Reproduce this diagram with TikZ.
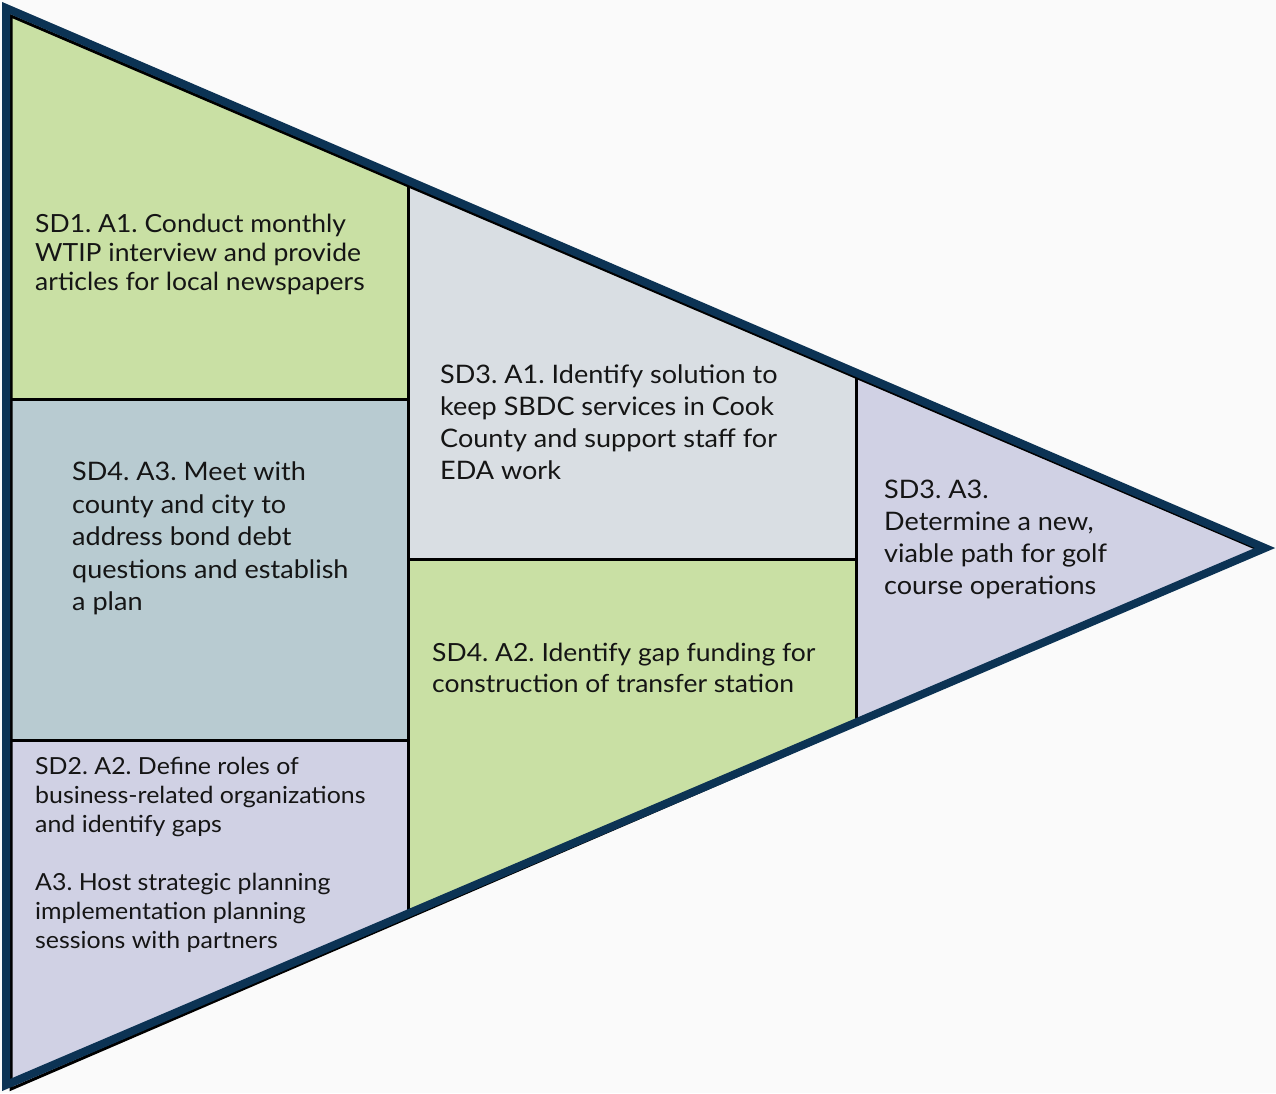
\documentclass[tikz,border=0pt]{standalone}
\usepackage{fontspec}
\setmainfont{Lato}[FakeStretch=1.06]
\frenchspacing
\definecolor{bgpaper}{HTML}{FAFAFA}
\definecolor{edgenavy}{HTML}{0C3354}
\definecolor{leafgreen}{HTML}{C9E0A4}
\definecolor{mistgrey}{HTML}{D9DEE3}
\definecolor{slateblue}{HTML}{B8CBD1}
\definecolor{lavender}{HTML}{D0D1E4}
\definecolor{inkgrey}{HTML}{151515}

\begin{document}
\begin{tikzpicture}[x=1pt, y=-1pt,
  divider/.style={draw=black, line width=3pt},
  label/.style={anchor=north west, inner sep=0pt, align=left, text=inkgrey}]
\fill[bgpaper] (0,0) rectangle (1276,1093);
\useasboundingbox (0,0) rectangle (1276,1093);

\coordinate (tl) at (11,16);
\coordinate (bl) at (11,1089);
\coordinate (tip) at (1260,550);

% cells
\begin{scope}
\clip (tl) -- (tip) -- (bl) -- cycle;
\fill[leafgreen] (0,0) rectangle (408,399);
\fill[slateblue] (0,399) rectangle (408,740);
\fill[lavender] (0,740) rectangle (408,1100);
\fill[mistgrey] (408,0) rectangle (856,559);
\fill[leafgreen] (408,559) rectangle (856,1100);
\fill[lavender] (856,0) rectangle (1276,1100);
\draw[divider] (408,0) -- (408,1100) (856,0) -- (856,1100);
\draw[divider] (0,399) -- (408,399) (0,740) -- (408,740) (408,559) -- (856,559);
\end{scope}
\draw[divider, line join=miter] (tl) -- (tip) -- (bl) -- cycle;
\draw[edgenavy, line width=8pt, line join=miter] (6,8) -- (1265,548) -- (6,1085) -- cycle;

% texts
\node[label, font=\fontsize{25}{29}\selectfont] (sd1a1) at (35,214)
  {SD1. A1. Conduct monthly\\WTIP interview and provide\\articles for local newspapers};
\node[label, font=\fontsize{25.5}{32}\selectfont] (sd3a1) at (440,365)
  {SD3. A1. Identify solution to\\keep SBDC services in Cook\\County and support staff for\\EDA work};
\node[label, font=\fontsize{25.5}{32.5}\selectfont] (sd4a3) at (72,462)
  {SD4. A3. Meet with\\county and city to\\address bond debt\\questions and establish\\a plan};
\node[label, font=\fontsize{25.5}{32}\selectfont] (sd3a3) at (884,480)
  {SD3. A3.\\Determine a new,\\viable path for golf\\course operations};
\node[label, font=\fontsize{25}{31}\selectfont] (sd4a2) at (432,643)
  {SD4. A2. Identify gap funding for\\construction of transfer station};
\node[label, font=\fontsize{23.5}{29}\selectfont] (sd2a2) at (35,757)
  {SD2. A2. Define roles of\\business-related organizations\\and identify gaps\\[29pt]A3. Host strategic planning\\implementation planning\\sessions with partners};
\end{tikzpicture}
\end{document}
